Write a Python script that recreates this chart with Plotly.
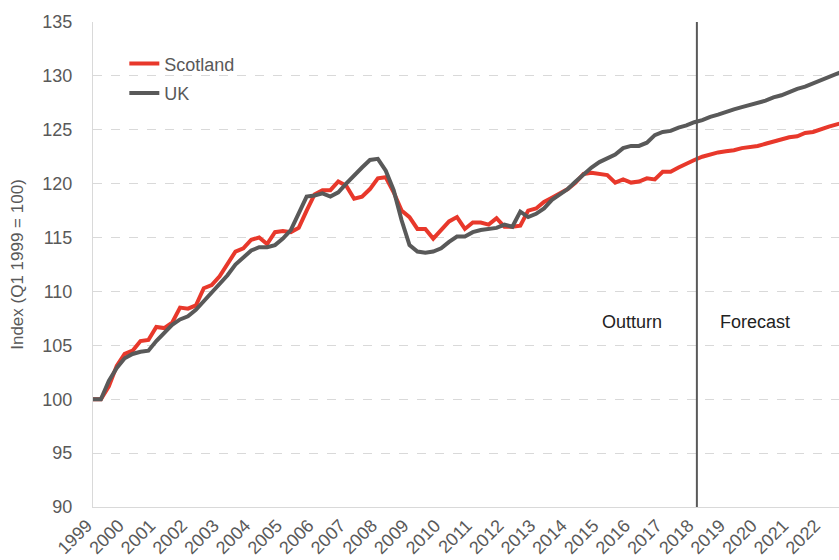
import plotly.graph_objects as go

# Quarterly index, Q1 1999 = 100 (1999 Q1 ... 2022 Q4)
start_year = 1999
scotland = [
    100.0, 100.0, 101.2, 103.1, 104.2, 104.5, 105.4, 105.5, 106.7, 106.6,
    107.1, 108.5, 108.4, 108.7, 110.3, 110.6, 111.4, 112.6, 113.7, 114.0,
    114.8, 115.0, 114.4, 115.5, 115.6, 115.5, 115.9, 117.5, 119.0, 119.4,
    119.4, 120.2, 119.8, 118.6, 118.8, 119.5, 120.5, 120.6, 119.2, 117.5,
    116.9, 115.8, 115.8, 114.9, 115.7, 116.5, 116.9, 115.8, 116.4, 116.4,
    116.2, 116.8, 116.0, 116.0, 116.1, 117.5, 117.7, 118.3, 118.7, 119.1,
    119.5, 120.1, 120.9, 121.0, 120.9, 120.8, 120.1, 120.4, 120.1, 120.2,
    120.5, 120.4, 121.1, 121.1, 121.5, 121.8, 122.2, 122.5, 122.7, 122.9,
    123.0, 123.1, 123.3, 123.4, 123.5, 123.7, 123.9, 124.1, 124.3, 124.4,
    124.7, 124.8, 125.1, 125.3, 125.5, 125.7,
]
uk = [
    100.0, 100.0, 101.7, 102.9, 103.8, 104.2, 104.4, 104.5, 105.4, 106.2,
    106.9, 107.4, 107.7, 108.3, 109.1, 109.9, 110.6, 111.5, 112.5, 113.2,
    113.8, 114.1, 114.1, 114.3, 114.9, 115.7, 117.2, 118.8, 118.9, 119.1,
    118.8, 119.2, 120.0, 120.8, 121.5, 122.2, 122.3, 121.2, 119.4, 116.6,
    114.3, 113.7, 113.6, 113.7, 114.0, 114.6, 115.1, 115.1, 115.5, 115.7,
    115.8, 115.9, 116.2, 116.0, 117.4, 116.9, 117.2, 117.7, 118.5, 119.0,
    119.5, 120.2, 120.9, 121.5, 122.0, 122.4, 122.7, 123.3, 123.5, 123.5,
    123.8, 124.5, 124.8, 124.9, 125.2, 125.4, 125.7, 125.9, 126.2, 126.4,
    126.7, 126.9, 127.1, 127.3, 127.5, 127.7, 128.0, 128.2, 128.5, 128.8,
    129.0, 129.3, 129.6, 129.9, 130.2, 130.5,
]
quarters = [start_year + i / 4 for i in range(len(uk))]
year_ticks = list(range(1999, 2023))
year_labels = [str(y) for y in year_ticks]
y_ticks = [90, 95, 100, 105, 110, 115, 120, 125, 130, 135]
forecast_start = 2018.08

RED = "#E8382B"
GREY = "#595959"
TXT = "#595959"
FONT = "Liberation Sans, Arial, sans-serif"
FS = 18

fig = go.Figure()
fig.add_trace(go.Scatter(x=quarters, y=scotland, mode="lines", name="Scotland",
                         legendgroup="a",
                         line=dict(color=RED, width=4)))
fig.add_trace(go.Scatter(x=quarters, y=uk, mode="lines", name="UK",
                         legendgroup="b",
                         line=dict(color=GREY, width=4)))

fig.add_shape(type="line", xref="x", yref="paper", x0=forecast_start, x1=forecast_start,
              y0=0, y1=1, line=dict(color=GREY, width=2))

fig.add_annotation(x=2016.03, y=107.2, xref="x", yref="y", text="Outturn",
                   showarrow=False, font=dict(size=FS, color="#222222", family=FONT))
fig.add_annotation(x=2019.92, y=107.2, xref="x", yref="y", text="Forecast",
                   showarrow=False, font=dict(size=FS, color="#222222", family=FONT))

fig.update_layout(
    width=839, height=560,
    margin=dict(l=93, r=0, t=22, b=53, autoexpand=False),
    paper_bgcolor="white", plot_bgcolor="white",
    font=dict(family=FONT, size=FS, color=TXT),
    showlegend=True,
    legend=dict(x=0.042, y=0.952, xanchor="left", yanchor="top",
                bgcolor="rgba(0,0,0,0)", font=dict(size=FS, color=TXT),
                traceorder="grouped", tracegroupgap=3, itemwidth=30),
    xaxis=dict(range=[1999, 1999 + 746 / 31.65], tickmode="array",
               tickvals=year_ticks, ticktext=year_labels, tickangle=-45,
               ticklabelshift=-6,
               showgrid=False, zeroline=False, showline=True,
               linecolor="#D9D9D9", linewidth=1, ticks="",
               tickfont=dict(size=FS, color=TXT)),
    yaxis=dict(range=[90, 135], tickmode="array", tickvals=y_ticks,
               showgrid=True, gridcolor="#D9D9D9", griddash="dash", gridwidth=1,
               zeroline=False, showline=True, linecolor="#D9D9D9", linewidth=1,
               ticks="", ticklabelstandoff=16,
               tickfont=dict(size=FS, color=TXT),
               title=dict(text="Index (Q1 1999 = 100)", standoff=14,
                          font=dict(size=17, color=TXT))),
)

fig.write_html("out.html", config={"displayModeBar": False},
               post_script="document.body.style.margin='0px';")
